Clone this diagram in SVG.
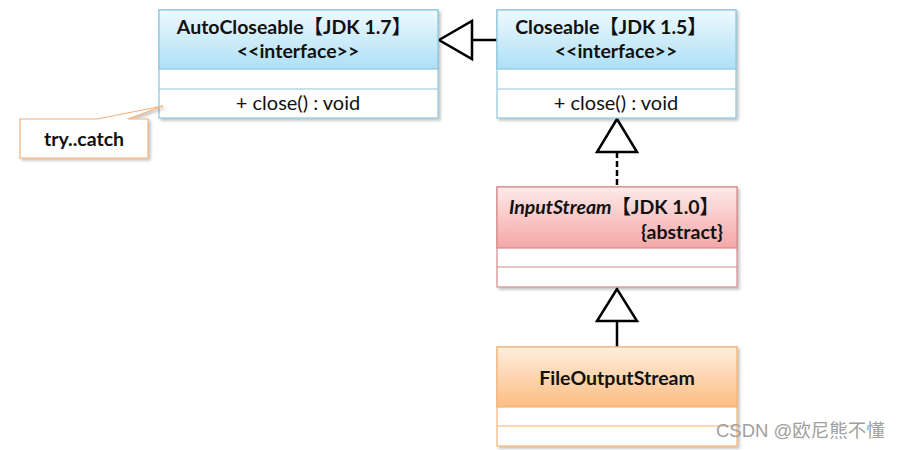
<svg xmlns="http://www.w3.org/2000/svg" width="902" height="450" viewBox="0 0 902 450">
<defs>
<linearGradient id="gBlue" x1="0" y1="0" x2="0" y2="1"><stop offset="0" stop-color="#eef9fe"/><stop offset="1" stop-color="#ade0f6"/></linearGradient>
<linearGradient id="gRed" x1="0" y1="0" x2="0" y2="1"><stop offset="0" stop-color="#feeaea"/><stop offset="1" stop-color="#f5a6a6"/></linearGradient>
<linearGradient id="gOrange" x1="0" y1="0" x2="0" y2="1"><stop offset="0" stop-color="#feeedd"/><stop offset="1" stop-color="#fbbd82"/></linearGradient>
<filter id="sh" x="-10%" y="-10%" width="120%" height="120%"><feDropShadow dx="2" dy="2" stdDeviation="1.5" flood-color="#000" flood-opacity="0.25"/></filter>
</defs>
<style>
text{font-family:"Lato","Liberation Sans","Noto Sans CJK SC",sans-serif;fill:#111}
.t{font-size:19.5px;font-weight:bold;text-anchor:middle}
.m{font-size:20px;text-anchor:middle}
.blue{stroke:#8ec6de;stroke-width:1.2}
.red{stroke:#d48a8a;stroke-width:1.2}
.orange{stroke:#f2b478;stroke-width:1.2}
.conn{stroke:#000;stroke-width:2.5;fill:none}
.head{stroke:#000;stroke-width:2.5;fill:#fff;stroke-linejoin:miter}
</style>
<g id="connectors">
<line class="conn" x1="472" y1="40" x2="497" y2="40"/>
<polygon class="head" points="439,40 472,21 472,59"/>
<line class="conn" x1="617" y1="152" x2="617" y2="187" stroke-dasharray="6,3"/>
<polygon class="head" points="617,119 597,152 637,152"/>
<line class="conn" x1="617" y1="321" x2="617" y2="347"/>
<polygon class="head" points="617,289 597,321 637,321"/>
</g>
<g id="AutoCloseable">
<rect x="159" y="10" width="279" height="108" fill="#fff" class="blue" filter="url(#sh)"/>
<rect x="159" y="10" width="279" height="59" fill="url(#gBlue)" class="blue"/>
<line x1="159" y1="89" x2="438" y2="89" class="blue"/>
<text class="t" x="294" y="34">AutoCloseable【JDK 1.7】</text>
<text class="t" x="298" y="58">&lt;&lt;interface&gt;&gt;</text>
<text class="m" x="298" y="110">+ close() : void</text>
</g>
<g id="Closeable">
<rect x="497" y="10" width="239" height="108" fill="#fff" class="blue" filter="url(#sh)"/>
<rect x="497" y="10" width="239" height="59" fill="url(#gBlue)" class="blue"/>
<line x1="497" y1="89" x2="736" y2="89" class="blue"/>
<text class="t" x="611" y="34">Closeable【JDK 1.5】</text>
<text class="t" x="616" y="58">&lt;&lt;interface&gt;&gt;</text>
<text class="m" x="616" y="110">+ close() : void</text>
</g>
<g id="InputStream">
<rect x="497" y="187" width="240" height="100" fill="#fff" class="red" filter="url(#sh)"/>
<rect x="497" y="187" width="240" height="61" fill="url(#gRed)" class="red"/>
<line x1="497" y1="267" x2="737" y2="267" class="red"/>
<text class="t" x="614" y="214"><tspan font-style="italic">InputStream</tspan>【JDK 1.0】</text>
<text class="t" x="723" y="239" style="text-anchor:end">{abstract}</text>
</g>
<g id="FileOutputStream">
<rect x="497" y="347" width="240" height="99" fill="#fff" class="orange" filter="url(#sh)"/>
<rect x="497" y="347" width="240" height="60" fill="url(#gOrange)" class="orange"/>
<line x1="497" y1="426" x2="737" y2="426" class="orange"/>
<text class="t" x="617" y="385">FileOutputStream</text>
</g>
<g id="note">
<path d="M20,119 L97,119 L163,106 L128,119 L148,119 L148,158 L20,158 Z" fill="#fff" stroke="#f2b07a" stroke-width="1.2" filter="url(#sh)"/>
<text class="t" x="84" y="146">try..catch</text>
</g>
<text x="716" y="437" style="font-family:'Liberation Sans','Noto Sans CJK SC',sans-serif;font-size:18.5px;fill:#a0a0a0">CSDN @欧尼熊不懂</text>
</svg>
